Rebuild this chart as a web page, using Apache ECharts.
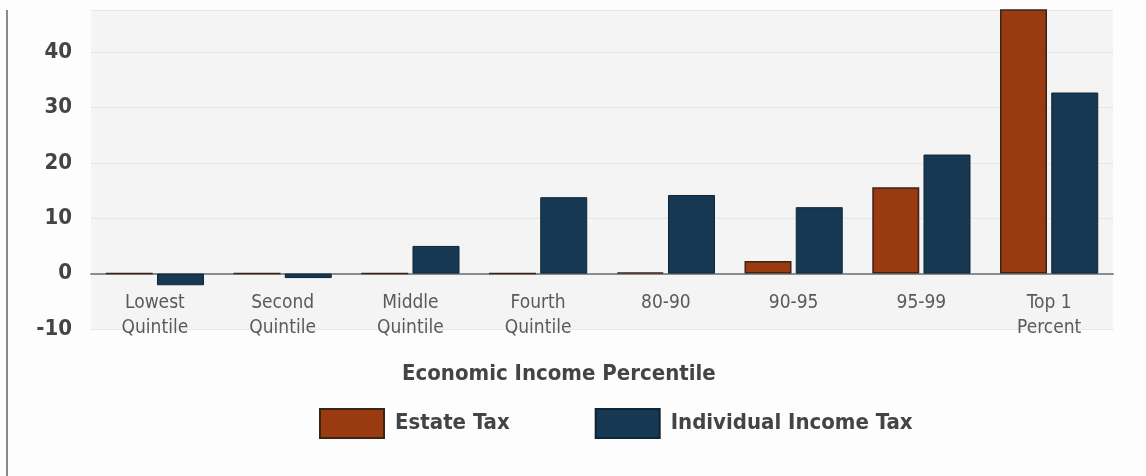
<!DOCTYPE html>
<html>
<head>
<meta charset="utf-8">
<script src="https://cdn.jsdelivr.net/npm/echarts@6/dist/echarts.min.js"></script>
<style>
html,body{margin:0;padding:0;background:#fdfdfd;}
#chart{width:1146px;height:476px;}
</style>
</head>
<body>
<div id="chart"></div>
<script>
const categories = ['Lowest\nQuintile', 'Second\nQuintile', 'Middle\nQuintile', 'Fourth\nQuintile', '80-90', '90-95', '95-99', 'Top 1\nPercent'];
const estateTax = [0, 0, 0, 0, 0.2, 2.3, 15.6, 81];
const individualIncomeTax = [-2.1, -0.8, 5.0, 13.8, 14.2, 12.0, 21.5, 32.7];
const yTicks = [-10, 0, 10, 20, 30, 40];

const FONT = '"Liberation Sans Narrow", "DejaVu Sans Condensed", "Roboto Condensed", "Liberation Sans", sans-serif';

const chart = echarts.init(document.getElementById('chart'));
chart.setOption({
  backgroundColor: '#fdfdfd',
  animation: false,
  textStyle: { fontFamily: FONT },
  title: {
    text: 'Economic Income Percentile',
    left: 402,
    top: 363,
    padding: 0,
    textStyle: { fontFamily: FONT, fontSize: 22, fontWeight: 'bold', color: '#444' }
  },
  legend: {
    left: 319,
    top: 408,
    padding: 0,
    itemWidth: 64,
    itemHeight: 29,
    itemGap: 85,
    icon: 'rect',
    textStyle: { fontFamily: FONT, fontSize: 22, fontWeight: 'bold', color: '#444', padding: [0, 0, 0, 6] },
    data: ['Estate Tax', 'Individual Income Tax']
  },
  graphic: [{
    type: 'line',
    shape: { x1: 7, y1: 10, x2: 7, y2: 476 },
    style: { stroke: '#8a8a8a', lineWidth: 2 }
  }],
  grid: {
    left: 91, right: 33, top: 10, bottom: 147,
    show: true, backgroundColor: '#f4f4f4', borderWidth: 0
  },
  xAxis: {
    type: 'category',
    data: categories,
    axisLine: { onZero: true, lineStyle: { color: '#8c8c8c', width: 2 } },
    axisTick: { show: false },
    axisLabel: { fontFamily: FONT, fontSize: 19, color: '#5a5a5a', lineHeight: 25, margin: -38 }
  },
  yAxis: {
    type: 'value',
    min: yTicks[0],
    max: 47.6,
    interval: 10,
    axisLine: { show: false },
    axisTick: { show: false },
    axisLabel: {
      fontFamily: FONT, fontSize: 22, fontWeight: 'bold', color: '#444', margin: 19,
      showMaxLabel: false,
      formatter: v => (yTicks.indexOf(v) >= 0 ? String(v) : '')
    },
    splitLine: { show: true, lineStyle: { color: '#e6e6e6', width: 1 } }
  },
  series: [
    {
      name: 'Estate Tax',
      type: 'bar',
      data: estateTax,
      barWidth: 47,
      barGap: '9%',
      clip: true,
      itemStyle: { color: '#993a10', borderColor: '#3a2418', borderWidth: 1.5 }
    },
    {
      name: 'Individual Income Tax',
      type: 'bar',
      data: individualIncomeTax,
      barWidth: 47,
      barGap: '9%',
      clip: true,
      itemStyle: { color: '#163852', borderColor: '#0e2536', borderWidth: 1 }
    }
  ]
});
</script>
</body>
</html>
